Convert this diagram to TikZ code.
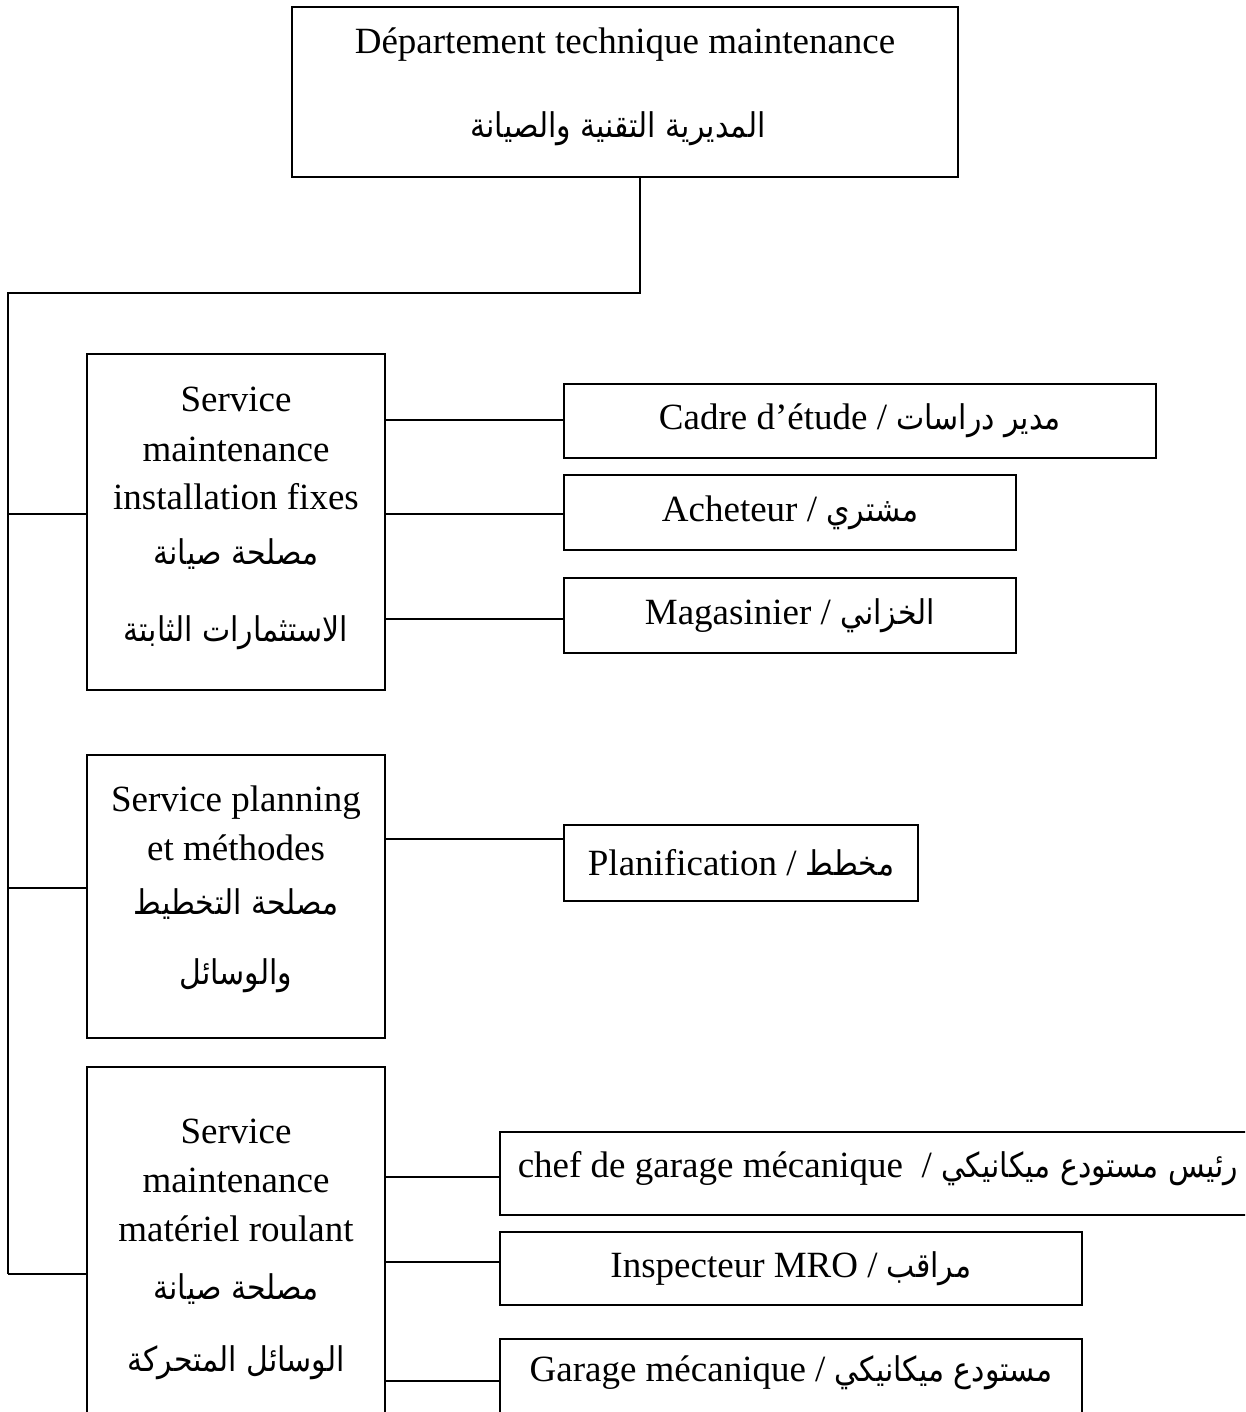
\documentclass[tikz,border=0pt]{standalone}
\usepackage{fontspec}
\setmainfont{Liberation Serif}
\newfontfamily\arabicfont[Script=Arabic,Scale=0.92,FakeStretch=0.88]{DejaVu Sans}
\TeXXeTstate=1
\newcommand{\artxt}[1]{{\arabicfont\beginR #1\endR}}

\begin{document}
\begin{tikzpicture}[x=1pt,y=-1pt,line width=1.5pt,
  every node/.style={font=\fontsize{37}{44}\selectfont},
  box/.style={draw,rectangle,inner sep=0pt,outer sep=0pt},
  txt/.style={anchor=mid,inner sep=0pt,yshift=-9pt}]
\clip (0,0) rectangle (1245,1412);

% head of department
\node[box,minimum width=666pt,minimum height=170pt] (dept) at (625,92) {};
\node[txt] (deptA) at (625,42) {Département technique maintenance};
\node[txt] (deptB) at (618,126) {\artxt{المديرية التقنية والصيانة}};

% services
\node[box,minimum width=298pt,minimum height=336pt] (s1) at (236,522) {};
\node[txt] (s1a) at (236,400) {Service};
\node[txt] (s1b) at (236,450) {maintenance};
\node[txt] (s1c) at (236,498) {installation fixes};
\node[txt] (s1d) at (236,553) {\artxt{مصلحة صيانة}};
\node[txt] (s1e) at (236,630) {\artxt{الاستثمارات الثابتة}};

\node[box,minimum width=298pt,minimum height=283pt] (s2) at (236,896.5) {};
\node[txt] (s2a) at (236,800) {Service planning};
\node[txt] (s2b) at (236,849) {et méthodes};
\node[txt] (s2c) at (236,903) {\artxt{مصلحة التخطيط}};
\node[txt] (s2d) at (236,973) {\artxt{والوسائل}};

\node[box,minimum width=298pt,minimum height=363pt] (s3) at (236,1248.5) {};
\node[txt] (s3a) at (236,1132) {Service};
\node[txt] (s3b) at (236,1181) {maintenance};
\node[txt] (s3c) at (236,1230) {matériel roulant};
\node[txt] (s3d) at (236,1288) {\artxt{مصلحة صيانة}};
\node[txt] (s3e) at (236,1360) {\artxt{الوسائل المتحركة}};

% posts
\node[box,minimum width=592pt,minimum height=74pt] (cadre) at (860,421)
  {Cadre d’étude / \artxt{مدير دراسات}};
\node[box,minimum width=452pt,minimum height=75pt] (achat) at (790,512.5)
  {Acheteur / \artxt{مشتري}};
\node[box,minimum width=452pt,minimum height=75pt] (magas) at (790,615.5)
  {Magasinier / \artxt{الخزاني}};
\node[box,minimum width=354pt,minimum height=76pt] (plan) at (741,863)
  {Planification / \artxt{مخطط}};
\node[box,minimum width=762pt,minimum height=83pt] (chef) at (881,1173.5) {};
\node[txt] (chefT) at (878,1166) {chef de garage mécanique \ / \artxt{رئيس مستودع ميكانيكي}};
\node[box,minimum width=582pt,minimum height=73pt] (insp) at (791,1268.5)
  {Inspecteur MRO / \artxt{مراقب}};
\node[box,minimum width=582pt,minimum height=77pt] (garage) at (791,1377.5) {};
\node[txt] (garageT) at (791,1370) {Garage mécanique / \artxt{مستودع ميكانيكي}};

% trunk line
\coordinate (drop) at (640,0);
\coordinate (busTop) at (8,293);
\coordinate (busBot) at (8,1274);
\draw (dept.south -| drop) |- (busTop) -- (busBot);

% branches to services
\coordinate (j1) at (8,514);
\coordinate (j2) at (8,888);
\draw (j1) -- (j1 -| s1.west);
\draw (j2) -- (j2 -| s2.west);
\draw (busBot) -- (busBot -| s3.west);

% branches to posts
\coordinate (r1) at (0,420);
\coordinate (r2) at (0,514);
\coordinate (r3) at (0,619);
\coordinate (r4) at (0,839);
\coordinate (r5) at (0,1177);
\coordinate (r6) at (0,1262);
\coordinate (r7) at (0,1381);
\draw (r1 -| s1.east) -- (r1 -| cadre.west);
\draw (r2 -| s1.east) -- (r2 -| achat.west);
\draw (r3 -| s1.east) -- (r3 -| magas.west);
\draw (r4 -| s2.east) -- (r4 -| plan.west);
\draw (r5 -| s3.east) -- (r5 -| chef.west);
\draw (r6 -| s3.east) -- (r6 -| insp.west);
\draw (r7 -| s3.east) -- (r7 -| garage.west);
\end{tikzpicture}
\end{document}
